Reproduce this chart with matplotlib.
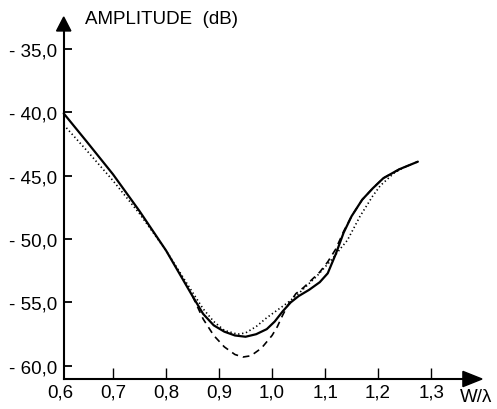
import matplotlib.pyplot as plt
from matplotlib.patches import Polygon

plt.rcParams['font.family'] = ['Liberation Sans', 'DejaVu Sans']

# courbe continue
x_solid = [0.607, 0.65, 0.70, 0.75, 0.80, 0.85, 0.87, 0.89, 0.91, 0.93, 0.95, 0.97,
           0.99, 1.005, 1.02, 1.035, 1.05, 1.07, 1.09, 1.105, 1.12, 1.135, 1.15,
           1.17, 1.19, 1.21, 1.24, 1.275]
y_solid = [-40.1, -42.3, -44.9, -47.8, -50.9, -54.5, -55.9, -56.8, -57.3, -57.6, -57.7, -57.5,
           -57.1, -56.5, -55.7, -55.0, -54.5, -54.0, -53.4, -52.7, -51.2, -49.5, -48.2,
           -46.9, -46.0, -45.2, -44.5, -43.9]

# courbe tiretée
x_dash = [0.85, 0.87, 0.89, 0.91, 0.93, 0.945, 0.96, 0.98, 1.00, 1.01, 1.02, 1.03,
          1.045, 1.06, 1.075, 1.09, 1.105, 1.12, 1.135, 1.15, 1.17, 1.19, 1.21, 1.24, 1.275]
y_dash = [-54.5, -56.3, -57.6, -58.5, -59.1, -59.3, -59.2, -58.6, -57.6, -56.9, -56.0, -55.2,
          -54.3, -53.8, -53.2, -52.6, -51.8, -50.8, -49.4, -48.2, -46.9, -46.0, -45.2, -44.5, -43.9]

# courbe pointillée
x_dot = [0.607, 0.65, 0.70, 0.75, 0.80, 0.85, 0.87, 0.89, 0.91, 0.935, 0.95, 0.97,
         0.99, 1.01, 1.03, 1.05, 1.07, 1.085, 1.10, 1.115, 1.13, 1.142, 1.166, 1.19,
         1.204, 1.23, 1.255]
y_dot = [-41.0, -43.0, -45.4, -48.0, -50.9, -54.2, -55.5, -56.5, -57.2, -57.5, -57.4, -56.9,
         -56.2, -55.6, -55.0, -54.3, -53.5, -52.9, -52.2, -51.5, -50.7, -50.1, -48.2, -46.6,
         -45.8, -44.8, -44.2]

y_ticks = [-35, -40, -45, -50, -55, -60]
x_ticks = [0.6, 0.7, 0.8, 0.9, 1.0, 1.1, 1.2, 1.3]

fig = plt.figure(figsize=(4.97, 4.10), dpi=100)
ax = fig.add_axes([60 / 497, 30 / 410, 422 / 497, 362 / 410])

x0, x1 = 0.6, 1.396
y0, y1 = -61.03, -32.5
ax.set_xlim(x0, x1)
ax.set_ylim(y0, y1)

ax.plot(x_solid, y_solid, color='black', lw=1.6, solid_capstyle='round', solid_joinstyle='round')
ax.plot(x_dash, y_dash, color='black', lw=1.2, linestyle=(0, (4, 3)))
ax.plot(x_dot, y_dot, color='black', lw=1.2, linestyle=(0, (0.8, 1.6)))

# axes avec flèches
xa = 0.607
for s in ['top', 'right']:
    ax.spines[s].set_visible(False)
ax.spines['left'].set_position(('data', xa))
ax.spines['left'].set_bounds(y0, -33.6)
ax.spines['bottom'].set_bounds(xa, 1.36)
ax.spines['left'].set_linewidth(1.5)
ax.spines['bottom'].set_linewidth(1.5)

ax.add_patch(Polygon([(xa - 0.0135, -33.6), (xa + 0.0135, -33.6), (xa, -32.5)],
                     closed=True, color='black', clip_on=False))
ax.add_patch(Polygon([(1.36, y0 - 0.6), (1.36, y0 + 0.6), (1.396, y0)],
                     closed=True, color='black', clip_on=False))

ax.set_yticks(y_ticks)
ax.set_yticklabels(['- %d,0' % abs(v) for v in y_ticks])
ax.set_xticks(x_ticks)
ax.set_xticklabels([('%.1f' % v).replace('.', ',') for v in x_ticks])
ax.tick_params(axis='y', direction='in', length=6, width=1.3, pad=5, labelsize=13.5)
ax.tick_params(axis='x', direction='in', length=8, width=1.0, pad=3, labelsize=13.5)
ax.xaxis.get_major_ticks()[0].tick1line.set_visible(False)

fig.text(85 / 497, 1 - 20 / 410, 'AMPLITUDE  (dB)', fontsize=13.5, va='center', ha='left')
fig.text(460 / 497, 1 - 398 / 410, 'W/λ', fontsize=13.5, va='center', ha='left')

fig.savefig('out.png', dpi=100)
